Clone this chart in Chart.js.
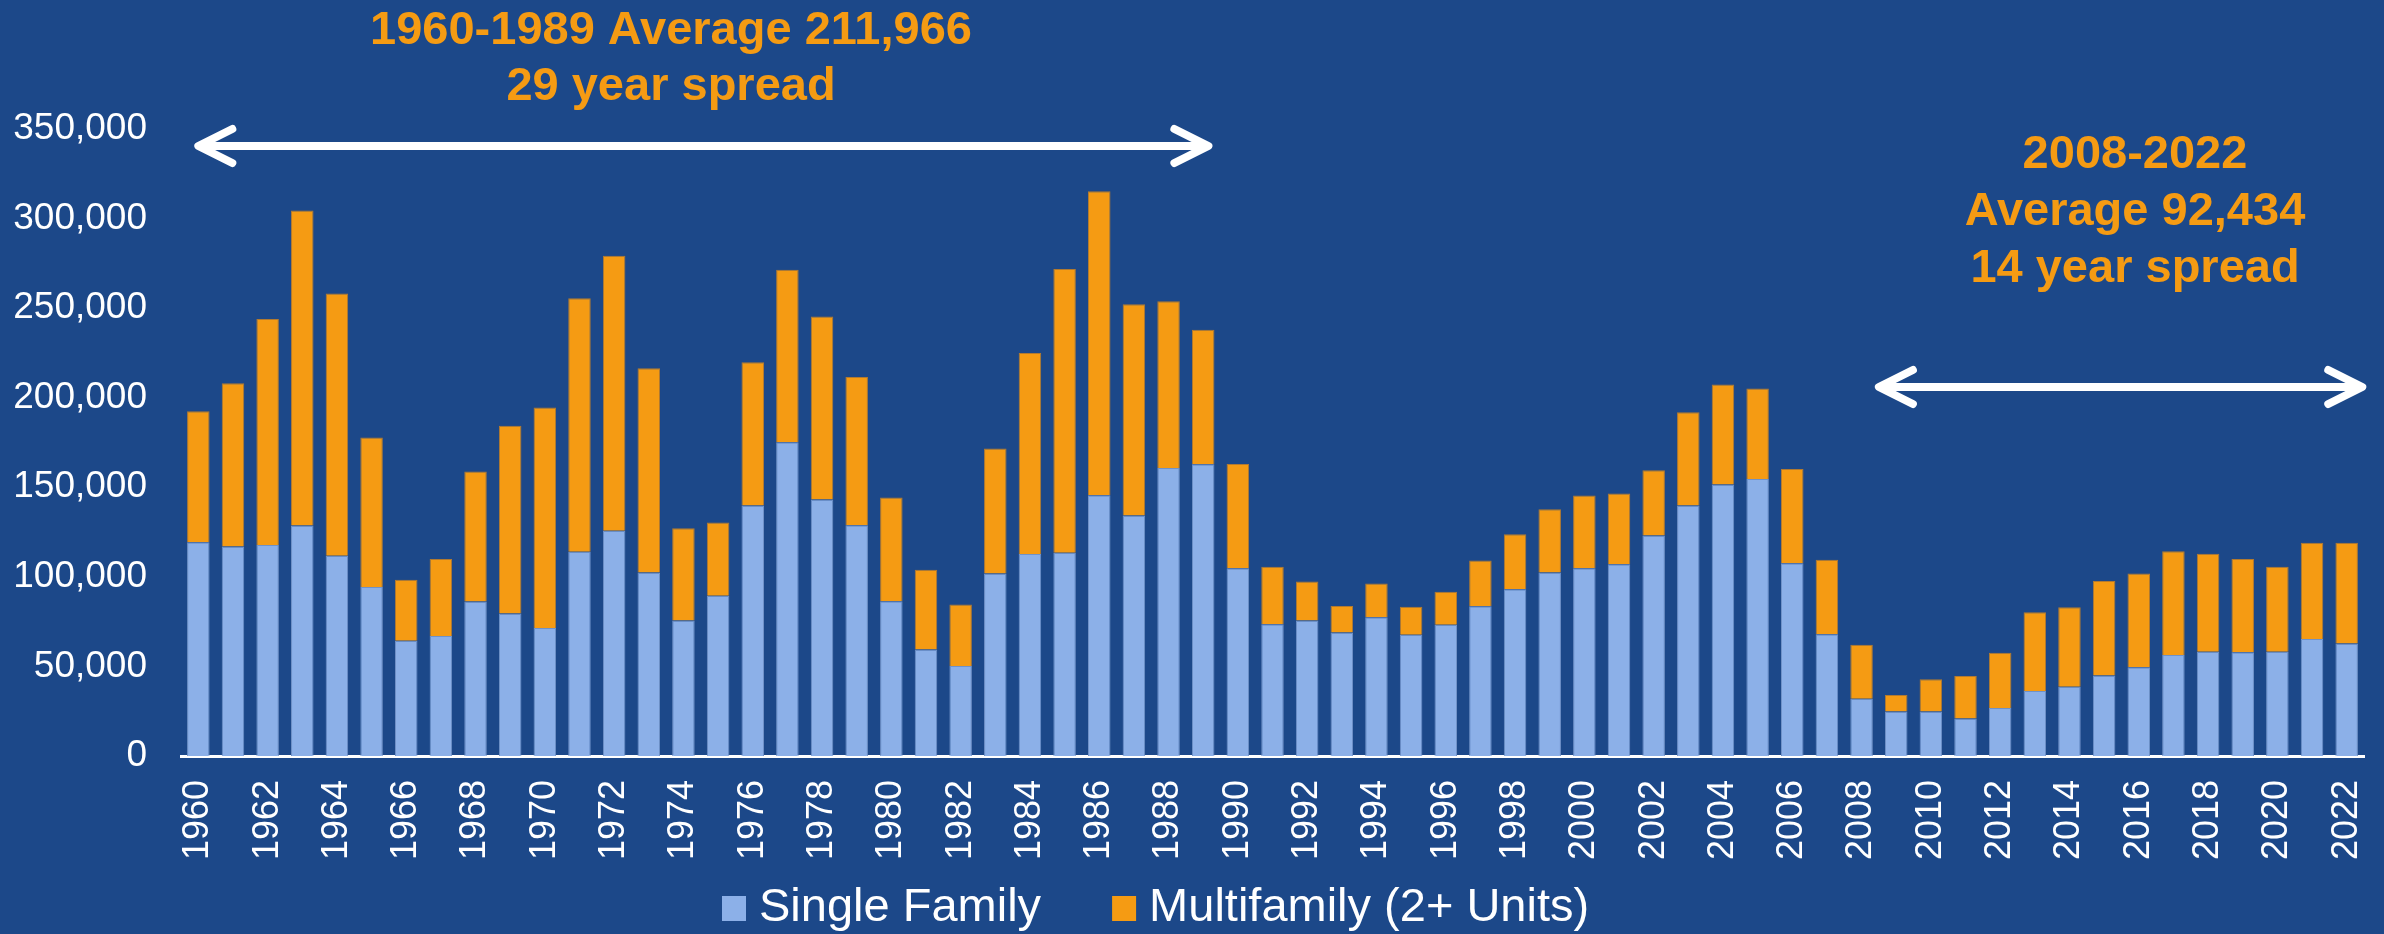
<!DOCTYPE html>
<html>
<head>
<meta charset="utf-8">
<title>Housing permits 1960-2022</title>
<script src="https://cdn.jsdelivr.net/npm/chart.js@4.4.1/dist/chart.umd.min.js"></script>
<style>
  html, body { margin: 0; padding: 0; background: #1c4889; }
  canvas { display: block; }
</style>
</head>
<body>
<canvas id="permitsChart" width="2384" height="934"></canvas>
<script>
const years = ['1960','1961','1962','1963','1964','1965','1966','1967','1968','1969',
  '1970','1971','1972','1973','1974','1975','1976','1977','1978','1979',
  '1980','1981','1982','1983','1984','1985','1986','1987','1988','1989',
  '1990','1991','1992','1993','1994','1995','1996','1997','1998','1999',
  '2000','2001','2002','2003','2004','2005','2006','2007','2008','2009',
  '2010','2011','2012','2013','2014','2015','2016','2017','2018','2019',
  '2020','2021','2022'];

const singleFamily = [119300, 116900, 117800, 128600, 111800, 94400, 64400, 67000, 86200, 79600,
  71500, 114000, 125700, 102500, 75600, 89500, 139800, 175200, 143200, 128800,
  86400, 59500, 50200, 101900, 112700, 113400, 145600, 134300, 160800, 162800,
  104800, 73600, 75600, 69000, 77400, 67700, 73200, 83600, 93100, 102500,
  104800, 107000, 123100, 139800, 151600, 154600, 107600, 67900, 31900, 24800,
  24800, 20900, 26800, 36300, 38600, 44900, 49600, 56400, 58200, 57900,
  58200, 65300, 62800];

const multifamily = [73100, 91200, 126200, 175900, 146400, 83400, 34000, 42900, 72600, 104800,
  123100, 141500, 153600, 113900, 51500, 40800, 80000, 96200, 102100, 82800,
  57900, 44400, 34300, 69800, 112200, 158400, 169700, 117900, 93000, 75100,
  58200, 32000, 21800, 14800, 18900, 15600, 18500, 25600, 30700, 35200,
  40600, 39500, 36400, 52100, 55800, 50600, 52600, 41700, 30200, 9300,
  18100, 23800, 30900, 44000, 44500, 52800, 52300, 57900, 54700, 52000,
  47400, 53800, 56300];

const yTicks = [0, 50000, 100000, 150000, 200000, 250000, 300000, 350000];

const leftNote = ['1960-1989 Average 211,966', '29 year spread'];
const rightNote = ['2008-2022', 'Average 92,434', '14 year spread'];

const bgColor = '#1c4889';
const orange = '#f59b13';
const lightBlue = '#8cb0e8';
const fontFamily = '"Liberation Sans", Arial, Helvetica, sans-serif';

function drawArrow(ctx, x1, x2, yy) {
    ctx.strokeStyle = '#ffffff';
    ctx.lineWidth = 8;
    ctx.lineCap = 'round';
    ctx.lineJoin = 'round';
    ctx.beginPath();
    ctx.moveTo(x1 + 3, yy);
    ctx.lineTo(x2 - 3, yy);
    ctx.stroke();
    ctx.beginPath();
    ctx.moveTo(x1 + 34, yy - 17);
    ctx.lineTo(x1, yy);
    ctx.lineTo(x1 + 34, yy + 17);
    ctx.stroke();
    ctx.beginPath();
    ctx.moveTo(x2 - 34, yy - 17);
    ctx.lineTo(x2, yy);
    ctx.lineTo(x2 - 34, yy + 17);
    ctx.stroke();
}

const backgroundPlugin = {
    id: 'background',
    beforeDraw(chart) {
        const ctx = chart.ctx;
        ctx.save();
        ctx.fillStyle = bgColor;
        ctx.fillRect(0, 0, chart.width, chart.height);
        ctx.restore();
    }
};

// spread notes and arrows
const notesPlugin = {
    id: 'spreadNotes',
    afterDraw(chart) {
        const { ctx, scales: { x, y } } = chart;
        ctx.save();
        ctx.font = 'bold 47px ' + fontFamily;
        ctx.fillStyle = orange;
        ctx.textAlign = 'center';
        ctx.textBaseline = 'alphabetic';
        leftNote.forEach((t, i) => ctx.fillText(t, 671, 44 + i * 56));
        rightNote.forEach((t, i) => ctx.fillText(t, 2135, 168 + i * 57));

        drawArrow(ctx, x.getPixelForValue(0), x.getPixelForValue(29.15), y.getPixelForValue(340500));
        drawArrow(ctx, x.getPixelForValue(48.5), x.getPixelForValue(62.45), y.getPixelForValue(206000));
        ctx.restore();
    }
};

// legend drawn by hand so the spacing matches the original slide
const legendPlugin = {
    id: 'bottomLegend',
    afterDraw(chart) {
        const ctx = chart.ctx;
        ctx.save();
        ctx.font = '47px ' + fontFamily;
        ctx.textAlign = 'left';
        ctx.textBaseline = 'alphabetic';
        let xPos = 722;
        chart.data.datasets.forEach(ds => {
            ctx.fillStyle = ds.backgroundColor;
            ctx.fillRect(xPos, 896, 24, 25);
            xPos += 24 + 13;
            ctx.fillStyle = '#ffffff';
            ctx.fillText(ds.label, xPos, 921);
            xPos += ctx.measureText(ds.label).width + 71;
        });
        ctx.restore();
    }
};

const ctx = document.getElementById('permitsChart').getContext('2d');

new Chart(ctx, {
    type: 'bar',
    data: {
        labels: years,
        datasets: [{
            label: 'Single Family',
            data: singleFamily,
            backgroundColor: lightBlue,
            borderColor: '#7092c8',
            borderWidth: 1,
            barPercentage: 0.65,
            categoryPercentage: 1
        }, {
            label: 'Multifamily (2+ Units)',
            data: multifamily,
            backgroundColor: orange,
            borderColor: '#b27a30',
            borderWidth: 1,
            barPercentage: 0.65,
            categoryPercentage: 1
        }]
    },
    options: {
        responsive: false,
        animation: false,
        devicePixelRatio: 1,
        layout: {
            padding: { top: 129, right: 20, bottom: 68, left: 0 }
        },
        scales: {
            x: {
                stacked: true,
                grid: { display: false, drawTicks: false },
                border: { display: true, color: '#ffffff', width: 3 },
                ticks: {
                    color: '#ffffff',
                    font: { family: fontFamily, size: 36 },
                    minRotation: 90,
                    maxRotation: 90,
                    autoSkip: false,
                    padding: 24,
                    callback: (v, i) => (i % 2 === 0 ? years[i] : '')
                },
                afterFit: (scale) => {
                    scale.height = 110;
                    scale.paddingLeft = 0;
                    scale.paddingRight = 0;
                }
            },
            y: {
                stacked: true,
                min: 0,
                max: 350000,
                grid: { display: false, drawTicks: false },
                border: { display: false },
                ticks: {
                    color: '#ffffff',
                    font: { family: fontFamily, size: 37 },
                    padding: 34,
                    callback: (v) => v.toLocaleString('en-US')
                },
                afterBuildTicks: (axis) => { axis.ticks = yTicks.map(v => ({ value: v })); },
                afterFit: (scale) => { scale.width = 181; }
            }
        },
        plugins: {
            legend: { display: false },
            tooltip: { enabled: false }
        }
    },
    plugins: [backgroundPlugin, notesPlugin, legendPlugin]
});
</script>
</body>
</html>
